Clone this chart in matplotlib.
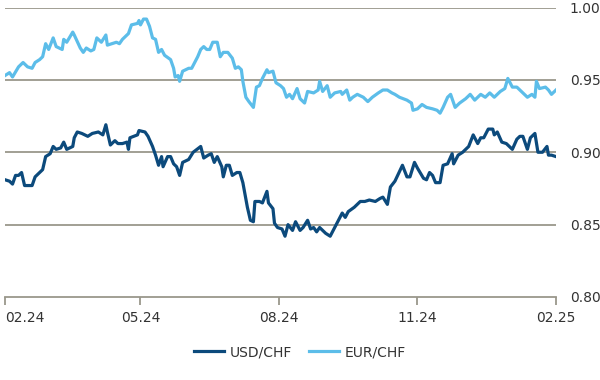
import matplotlib

matplotlib.use("Agg")
import matplotlib.dates as mdates
import matplotlib.pyplot as plt
import pandas as pd

start = pd.Timestamp("2024-02-01")
end = pd.Timestamp("2025-02-01")

# days since 2024-02-01
usd_days = [
    0, 3, 5, 7, 9, 11, 13, 18, 20, 23, 25, 27, 30, 32, 34, 37, 39, 41, 45, 46,
    48, 51, 53, 55, 58, 62, 65, 67, 68, 70, 73, 75, 78, 81, 82, 83, 88, 89, 93, 95,
    98, 100, 102, 104, 105, 108, 110, 112, 114, 116, 118, 122, 125, 130, 132, 135, 137, 139, 141, 144,
    145, 147, 149, 151, 154, 156, 158, 161, 163, 165, 166, 169, 171, 174, 175, 178, 179, 181, 184, 186,
    188, 191, 193, 196, 198, 201, 203, 205, 207, 209, 213, 216, 218, 221, 224, 226, 228, 232, 236, 239,
    242, 246, 249, 251, 254, 256, 259, 264, 267, 269, 272, 274, 278, 280, 282, 284, 286, 289, 291, 294,
    297, 298, 301, 304, 308, 311, 314, 316, 318, 321, 324, 325, 327, 330, 333, 335, 337, 340, 342, 344,
    347, 349, 352, 354, 357, 360, 361, 363, 366,
]
usd_chf = [
    0.881, 0.880, 0.878, 0.884, 0.884, 0.886, 0.877, 0.877, 0.883, 0.886, 0.888, 0.897, 0.899, 0.904, 0.902, 0.903, 0.907, 0.902, 0.904, 0.910,
    0.914, 0.913, 0.912, 0.911, 0.913, 0.914, 0.912, 0.919, 0.914, 0.905, 0.908, 0.906, 0.906, 0.907, 0.902, 0.910, 0.912, 0.915, 0.914, 0.911,
    0.904, 0.898, 0.891, 0.897, 0.890, 0.897, 0.897, 0.892, 0.890, 0.884, 0.893, 0.895, 0.900, 0.904, 0.896, 0.898, 0.899, 0.893, 0.897, 0.890,
    0.883, 0.891, 0.891, 0.884, 0.886, 0.886, 0.879, 0.862, 0.853, 0.852, 0.866, 0.866, 0.865, 0.873, 0.865, 0.861, 0.851, 0.848, 0.847, 0.842,
    0.850, 0.846, 0.852, 0.846, 0.848, 0.853, 0.847, 0.848, 0.845, 0.848, 0.844, 0.842, 0.846, 0.852, 0.858, 0.855, 0.859, 0.862, 0.866, 0.866,
    0.867, 0.866, 0.868, 0.869, 0.864, 0.876, 0.880, 0.891, 0.883, 0.883, 0.893, 0.889, 0.882, 0.881, 0.886, 0.884, 0.879, 0.879, 0.891, 0.892,
    0.899, 0.892, 0.898, 0.900, 0.904, 0.912, 0.906, 0.910, 0.910, 0.916, 0.916, 0.912, 0.914, 0.907, 0.906, 0.904, 0.902, 0.909, 0.911, 0.911,
    0.902, 0.910, 0.913, 0.900, 0.900, 0.904, 0.898, 0.898, 0.897,
]

eur_days = [
    0, 3, 5, 9, 12, 15, 18, 20, 23, 25, 27, 29, 32, 34, 38, 39, 41, 45, 46, 50,
    52, 54, 57, 59, 61, 64, 67, 68, 71, 74, 76, 78, 82, 84, 88, 89, 90, 92, 94, 96,
    98, 100, 102, 104, 106, 110, 112, 113, 115, 116, 118, 122, 124, 128, 130, 132, 134, 136, 138, 141,
    143, 145, 148, 151, 153, 155, 157, 158, 160, 162, 165, 167, 169, 171, 174, 175, 178, 180, 183, 185,
    187, 189, 191, 194, 196, 199, 201, 205, 208, 209, 211, 214, 216, 219, 223, 224, 227, 229, 231, 234,
    238, 241, 244, 248, 251, 254, 257, 259, 262, 267, 270, 271, 274, 277, 280, 284, 287, 289, 291, 294,
    296, 299, 302, 306, 309, 312, 316, 319, 322, 325, 329, 332, 334, 337, 340, 343, 347, 350, 352, 353,
    355, 359, 361, 363, 366,
]
eur_chf = [
    0.953, 0.955, 0.952, 0.959, 0.962, 0.959, 0.958, 0.962, 0.964, 0.966, 0.975, 0.971, 0.979, 0.973, 0.971, 0.978, 0.976, 0.983, 0.981, 0.972,
    0.969, 0.972, 0.970, 0.971, 0.979, 0.976, 0.981, 0.974, 0.975, 0.976, 0.975, 0.978, 0.982, 0.988, 0.989, 0.991, 0.988, 0.992, 0.992, 0.987,
    0.979, 0.978, 0.969, 0.971, 0.967, 0.964, 0.958, 0.952, 0.953, 0.949, 0.956, 0.958, 0.958, 0.966, 0.971, 0.973, 0.971, 0.971, 0.976, 0.976,
    0.966, 0.969, 0.969, 0.965, 0.958, 0.959, 0.957, 0.949, 0.938, 0.935, 0.931, 0.945, 0.946, 0.951, 0.957, 0.955, 0.956, 0.948, 0.946, 0.944,
    0.938, 0.940, 0.937, 0.944, 0.937, 0.934, 0.942, 0.941, 0.943, 0.949, 0.942, 0.946, 0.938, 0.941, 0.942, 0.940, 0.943, 0.936, 0.938, 0.940,
    0.938, 0.935, 0.938, 0.941, 0.943, 0.943, 0.941, 0.940, 0.938, 0.936, 0.934, 0.929, 0.930, 0.933, 0.931, 0.930, 0.929, 0.927, 0.931, 0.938,
    0.940, 0.931, 0.934, 0.937, 0.940, 0.936, 0.940, 0.938, 0.941, 0.938, 0.942, 0.944, 0.951, 0.945, 0.945, 0.942, 0.938, 0.940, 0.938, 0.949,
    0.944, 0.945, 0.943, 0.940, 0.943,
]

tick_dates = ["2024-02-01", "2024-05-01", "2024-08-01", "2024-11-01", "2025-02-01"]
y_ticks = [0.80, 0.85, 0.90, 0.95, 1.00]

usd_color = "#0c4a7c"
eur_color = "#5cbde9"
grid_color = "#9a978b"
text_color = "#333333"

usd_dates = start + pd.to_timedelta(usd_days, unit="D")
eur_dates = start + pd.to_timedelta(eur_days, unit="D")

fig = plt.figure(figsize=(6, 3.8), dpi=100)
ax = fig.add_axes([5 / 600, 1 - 297 / 380, 551 / 600, 289.5 / 380])

for y in y_ticks[1:]:
    ax.axhline(y, color=grid_color, lw=1.3, zorder=1)

ax.plot(usd_dates, usd_chf, color=usd_color, lw=2.3, label="USD/CHF", zorder=3)
ax.plot(eur_dates, eur_chf, color=eur_color, lw=2.3, label="EUR/CHF", zorder=3)

ax.set_xlim(start, end)
ax.set_ylim(0.80, 1.00)

for side in ["top", "left", "right"]:
    ax.spines[side].set_visible(False)
ax.spines["bottom"].set_color(grid_color)
ax.spines["bottom"].set_linewidth(1.3)

ax.set_xticks(pd.to_datetime(tick_dates))
ax.xaxis.set_major_formatter(mdates.DateFormatter("%m.%y"))
ax.tick_params(axis="x", length=6, width=1.3, color=grid_color, labelsize=10,
               labelcolor=text_color, pad=4)
ax.get_xticklabels()[0].set_horizontalalignment("left")

ax.yaxis.tick_right()
ax.set_yticks(y_ticks)
ax.set_yticklabels([f"{v:.2f}" for v in y_ticks])
ax.tick_params(axis="y", length=0, labelsize=10, labelcolor=text_color, pad=10)

ax.legend(loc="center", bbox_to_anchor=(0.5, 1 - 352 / 380), bbox_transform=fig.transFigure,
          ncol=2, frameon=False, fontsize=10, handlelength=2.2, columnspacing=1.2,
          handletextpad=0.4, labelcolor=text_color)

fig.savefig("out.png", dpi=100)
